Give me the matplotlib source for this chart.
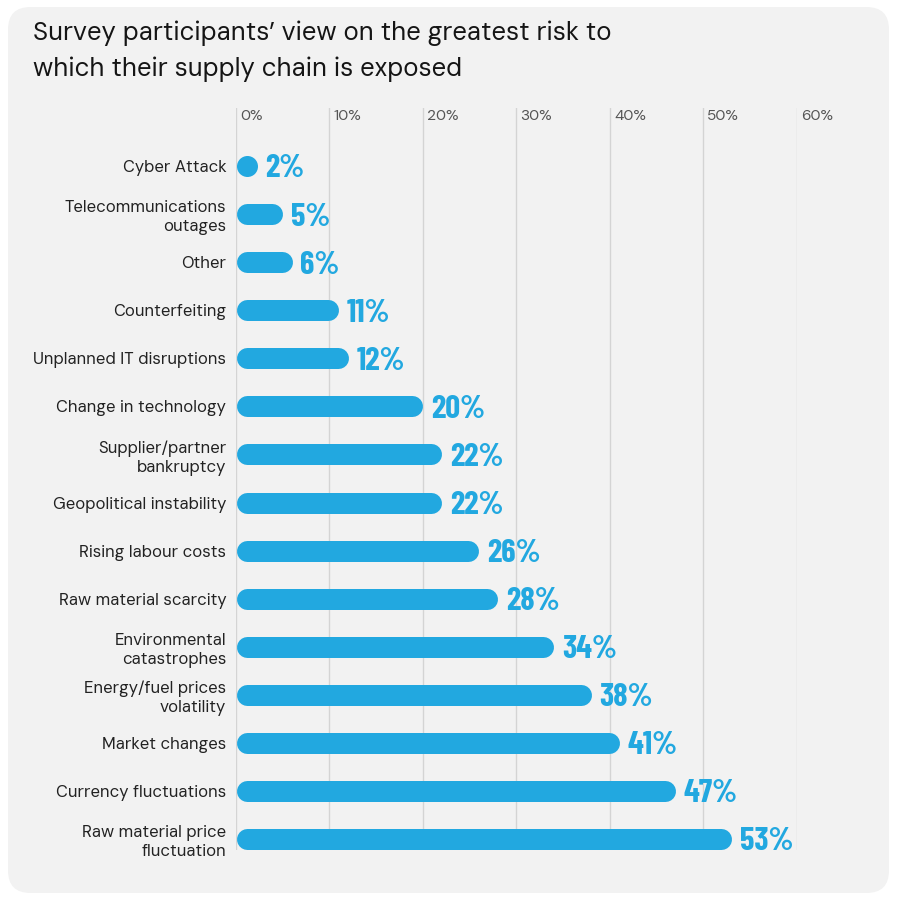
import matplotlib
matplotlib.use("Agg")
from matplotlib import pyplot as plt
from matplotlib.patches import FancyBboxPatch

categories = [
    "Cyber Attack",
    "Telecommunications\noutages",
    "Other",
    "Counterfeiting",
    "Unplanned IT disruptions",
    "Change in technology",
    "Supplier/partner\nbankruptcy",
    "Geopolitical instability",
    "Rising labour costs",
    "Raw material scarcity",
    "Environmental\ncatastrophes",
    "Energy/fuel prices\nvolatility",
    "Market changes",
    "Currency fluctuations",
    "Raw material price\nfluctuation",
]
values = [2, 5, 6, 11, 12, 20, 22, 22, 26, 28, 34, 38, 41, 47, 53]
ticks = [0, 10, 20, 30, 40, 50, 60]

title = "Survey participants\u2019 view on the greatest risk to\nwhich their supply chain is exposed"

BLUE = "#22a8e0"
PANEL = "#f2f2f2"
TEXT = "#222222"

plt.rcParams['font.family'] = ['DM Sans', 'Inter', 'DejaVu Sans']
NUM_FONT = ['Barlow Condensed', 'Liberation Sans', 'DejaVu Sans']

fig = plt.figure(figsize=(9, 9), dpi=100)
fig.patch.set_facecolor("white")

# rounded panel behind everything
panel = FancyBboxPatch((8 / 900, 7 / 900), 881 / 900, 886 / 900,
                       boxstyle="round,pad=0,rounding_size=0.025",
                       transform=fig.transFigure, facecolor=PANEL,
                       edgecolor="none", zorder=-5)
fig.patches.append(panel)

fig.text(33 / 900, 1 - 20 / 900, title, ha="left", va="top",
         fontsize=18.5, color="#151515", linespacing=1.55)

ax = fig.add_axes([236 / 900, 50 / 900, 560.7 / 900, 742 / 900])
ax.set_facecolor("none")
n = len(categories)
ax.set_xlim(0, 60)
ax.set_ylim(n - 1 + 0.229, -1.207)

for s in ax.spines.values():
    s.set_visible(False)

ax.set_xticks(ticks)
ax.set_xticklabels([])
ax.tick_params(axis="x", length=0)
ax.grid(axis="x", color="#d4d4d4", linewidth=1)
ax.set_axisbelow(True)

for t in ticks:
    ax.annotate(f"{t}%", xy=(t, 1), xycoords=("data", "axes fraction"),
                xytext=(3, -1), textcoords="offset points",
                ha="left", va="top", fontsize=11, color="#555555")

ax.set_yticks(range(n))
ax.set_yticklabels(categories, fontsize=12, color=TEXT, linespacing=1.25)
ax.tick_params(axis="y", length=0, pad=7)

# bars with round caps: width in pixels -> radius in data units
bar_px = 21
ax_w_px = ax.get_position().width * fig.get_figwidth() * fig.dpi
r = (bar_px / 2) * 60 / ax_w_px
lw_pt = bar_px * 72 / fig.dpi

num_fs = 23.5
for i, v in enumerate(values):
    if v > 2 * r:
        ax.plot([r, v - r], [i, i], color=BLUE, linewidth=lw_pt,
                solid_capstyle="round", zorder=3)
    else:
        ax.plot([r], [i], "o", color=BLUE, markersize=lw_pt,
                markeredgewidth=0, zorder=3)
    # baseline placed half a cap height below the bar centre
    ax.annotate(f"{v}%", xy=(max(v, 2 * r), i), xytext=(6, -0.35 * num_fs),
                textcoords="offset points", ha="left", va="baseline",
                fontsize=num_fs, fontweight="bold", color=BLUE,
                family=NUM_FONT, annotation_clip=False)

fig.savefig("out.png", dpi=100, facecolor="white")
